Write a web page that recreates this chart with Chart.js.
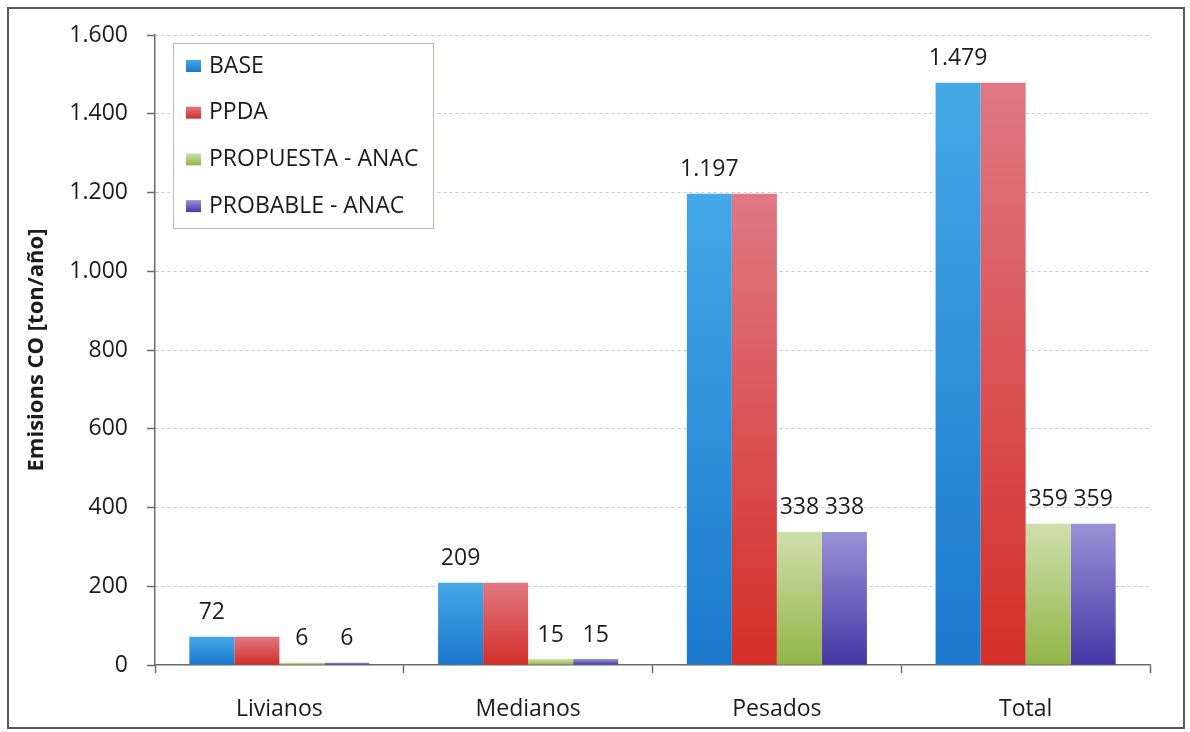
<!DOCTYPE html>
<html lang="es">
<head>
<meta charset="utf-8">
<title>Emisiones CO por tipo de vehículo</title>
<script src="https://cdn.jsdelivr.net/npm/chart.js@4/dist/chart.umd.min.js"></script>
<style>
  html, body { margin: 0; padding: 0; background: #ffffff; }
  #wrap { width: 1190px; height: 732px; }
</style>
</head>
<body>
<div id="wrap"><canvas id="chart" width="1190" height="732"></canvas></div>
<script>
// Categorías y valores de emisiones de CO [ton/año]
const categories = ['Livianos', 'Medianos', 'Pesados', 'Total'];
const seriesNames = ['BASE', 'PPDA', 'PROPUESTA - ANAC', 'PROBABLE - ANAC'];
const baseValues = [72, 209, 1197, 1479];
const ppdaValues = [72, 209, 1197, 1479];
const propuestaValues = [6, 15, 338, 359];
const probableValues = [6, 15, 338, 359];
const yMin = 0;
const yMax = 1600;
const yStep = 200;

// Degradado vertical (claro arriba, oscuro abajo) por serie
const palettes = [
  { top: '#45a8e6', bottom: '#1b78cc', swatch: '#2a8fd8' },
  { top: '#e07884', bottom: '#d42e28', swatch: '#d8474d' },
  { top: '#cfdfae', bottom: '#92b545', swatch: '#aac66e' },
  { top: '#9a92d6', bottom: '#4636a6', swatch: '#6658b8' }
];

const FONT = '"Open Sans", "DejaVu Sans", sans-serif';
const TEXT = '#1c1c1c';
const AXIS = '#6a6a6a';

// Formato con separador de miles '.'
function fmt(v) {
  return String(v).replace(/\B(?=(\d{3})+(?!\d))/g, '.');
}

function barFill(idx) {
  return function (ctx) {
    const p = palettes[idx];
    const chart = ctx.chart;
    if (ctx.type !== 'data' || !chart.chartArea || !chart.scales.y) return p.swatch;
    const y = chart.scales.y;
    const yTop = y.getPixelForValue(ctx.raw);
    const yBot = y.getPixelForValue(0);
    if (!isFinite(yTop) || yBot - yTop < 1) return p.bottom;
    const g = chart.ctx.createLinearGradient(0, yTop, 0, yBot);
    g.addColorStop(0, p.top);
    g.addColorStop(1, p.bottom);
    return g;
  };
}

const seriesValues = [baseValues, ppdaValues, propuestaValues, probableValues];
const labelled = [true, false, true, true];

const datasets = seriesNames.map((name, i) => ({
  label: name,
  data: seriesValues[i],
  backgroundColor: barFill(i),
  borderWidth: 0,
  showValue: labelled[i],
  categoryPercentage: 0.724,
  barPercentage: 1.0
}));

// Marco exterior y fondo blanco
const framePlugin = {
  id: 'frame',
  beforeDraw(chart) {
    const c = chart.ctx;
    c.save();
    c.fillStyle = '#ffffff';
    c.fillRect(0, 0, chart.width, chart.height);
    c.strokeStyle = '#5a5a5a';
    c.lineWidth = 2;
    c.strokeRect(8, 8, 1176, 720);
    c.restore();
  }
};

// Etiquetas de valor sobre las barras
const valueLabels = {
  id: 'valueLabels',
  afterDatasetsDraw(chart) {
    const c = chart.ctx;
    c.save();
    c.font = '23px ' + FONT;
    c.fillStyle = TEXT;
    c.textAlign = 'center';
    c.textBaseline = 'middle';
    chart.data.datasets.forEach((ds, di) => {
      if (!ds.showValue) return;
      const meta = chart.getDatasetMeta(di);
      meta.data.forEach((bar, i) => {
        c.fillText(fmt(ds.data[i]), bar.x, bar.y - 24);
      });
    });
    c.restore();
  }
};

// Leyenda en recuadro dentro del área del gráfico
const boxLegend = {
  id: 'boxLegend',
  afterDraw(chart) {
    const c = chart.ctx;
    const x = 173, y = 43, w = 260, h = 185;
    c.save();
    c.fillStyle = '#ffffff';
    c.fillRect(x, y, w, h);
    c.strokeStyle = '#b4b8d6';
    c.lineWidth = 1;
    c.strokeRect(x + 0.5, y + 0.5, w, h);
    c.font = '23px ' + FONT;
    c.textAlign = 'left';
    c.textBaseline = 'middle';
    chart.data.datasets.forEach((ds, i) => {
      const cy = 66 + i * 46.7;
      const p = palettes[i];
      const g = c.createLinearGradient(0, cy - 6, 0, cy + 6);
      g.addColorStop(0, p.top);
      g.addColorStop(1, p.bottom);
      c.fillStyle = g;
      c.fillRect(186, cy - 6, 15, 12);
      c.fillStyle = TEXT;
      c.fillText(ds.label, 209, cy);
    });
    c.restore();
  }
};

new Chart(document.getElementById('chart'), {
  type: 'bar',
  data: { labels: categories, datasets },
  plugins: [framePlugin, valueLabels, boxLegend],
  options: {
    responsive: false,
    animation: false,
    layout: { padding: { top: 35, right: 40, bottom: 0, left: 0 } },
    plugins: {
      legend: { display: false },
      tooltip: { enabled: false }
    },
    scales: {
      x: {
        afterFit(scale) { scale.height = 67; },
        grid: {
          offset: true,
          drawOnChartArea: false,
          drawTicks: true,
          tickLength: 8,
          tickColor: AXIS,
          tickWidth: 1.5
        },
        border: { display: true, color: AXIS, width: 1.5 },
        ticks: {
          color: TEXT,
          padding: 23,
          font: { family: FONT, size: 23 }
        }
      },
      y: {
        min: yMin,
        max: yMax,
        afterFit(scale) { scale.width = 155; },
        ticks: {
          stepSize: yStep,
          color: TEXT,
          padding: 19,
          font: { family: FONT, size: 23 },
          callback: (v) => fmt(v)
        },
        grid: {
          drawTicks: true,
          tickLength: 8,
          tickColor: AXIS,
          tickWidth: 1.5,
          color: (ctx) => (ctx.tick && ctx.tick.value === 0 ? 'rgba(0,0,0,0)' : '#c3c6dc'),
          lineWidth: 1
        },
        border: { display: true, color: AXIS, width: 1.5, dash: [3, 3] },
        title: {
          display: true,
          text: 'Emisions CO [ton/año]',
          color: TEXT,
          font: { family: FONT, size: 22, weight: 'bold' },
          padding: { top: 24, bottom: 0 }
        }
      }
    }
  }
});
</script>
</body>
</html>
